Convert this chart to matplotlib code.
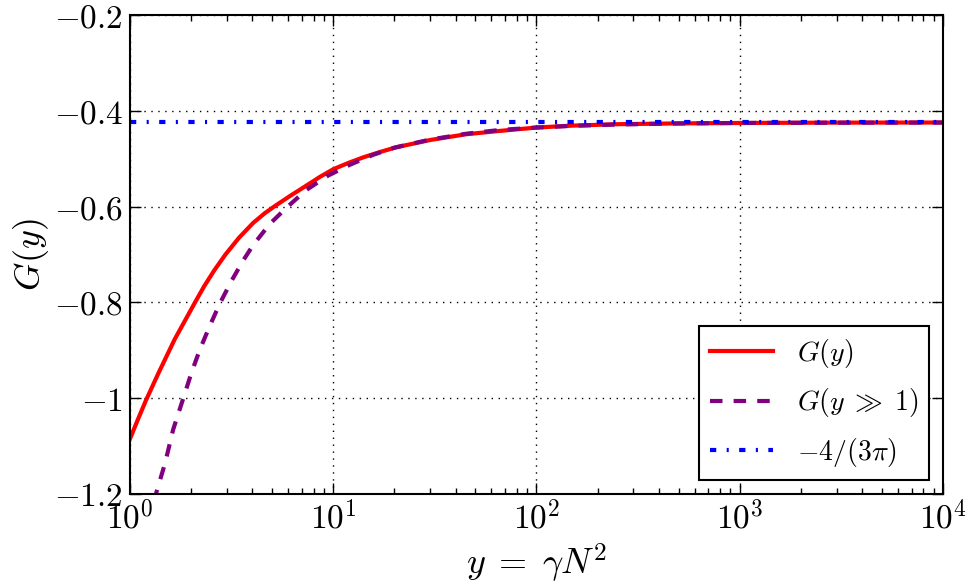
import numpy as np
import matplotlib
matplotlib.use("Agg")
import matplotlib.pyplot as plt

plt.rcParams['mathtext.fontset'] = 'cm'
plt.rcParams['font.family'] = ['DejaVu Serif']
plt.rcParams['lines.scale_dashes'] = False

# values
y_exact = [1.0, 1.1, 1.2, 1.38, 1.66, 2.09, 2.32, 2.60, 2.95, 3.44, 4.04,
           4.6, 5.2, 6.12, 7.39, 8.6, 10, 12, 14.1, 17, 20.5, 30, 45, 66,
           100, 150, 250, 500, 1000, 3000, 10000]
g_exact = [-1.085, -1.042, -1.004, -0.948, -0.877, -0.800, -0.766, -0.733,
           -0.700, -0.665, -0.634, -0.614, -0.598, -0.578, -0.556, -0.538,
           -0.522, -0.508, -0.497, -0.486, -0.476, -0.461, -0.449, -0.442,
           -0.435, -0.431, -0.428, -0.4263, -0.4254, -0.4247, -0.4245]

y_asym = [1.25, 1.35, 1.49, 1.63, 1.83, 2.01, 2.21, 2.47, 2.77, 3.16, 3.6,
          4.04, 4.88, 5.9, 7.39, 9.46, 12.1, 15.7, 20, 30, 45, 66, 100, 150,
          250, 500, 1000, 3000, 10000]
g_asym = [-1.265, -1.196, -1.135, -1.066, -1.0, -0.946, -0.898, -0.849,
          -0.802, -0.755, -0.713, -0.680, -0.636, -0.602, -0.565, -0.535,
          -0.5125, -0.492, -0.477, -0.46, -0.448, -0.440, -0.435, -0.4314,
          -0.4286, -0.4265, -0.4255, -0.4248, -0.4245]

limit_value = -4 / (3 * np.pi)
x_range = [1, 10000]

xticks = [1, 10, 100, 1000, 10000]
xtick_labels = [r'$10^{0}$', r'$10^{1}$', r'$10^{2}$', r'$10^{3}$', r'$10^{4}$']
yticks = [-1.2, -1.0, -0.8, -0.6, -0.4, -0.2]
ytick_labels = [r'$-1.2$', r'$-1$', r'$-0.8$', r'$-0.6$', r'$-0.4$', r'$-0.2$']

fig = plt.figure(figsize=(9.67, 5.88), dpi=100)
ax = fig.add_axes([0.1344, 0.1599, 0.8408, 0.8146])

ax.plot(y_exact, g_exact, color='#ff0000', lw=3, label=r'$G(y)$')
ax.plot(y_asym, g_asym, color='#800080', lw=3, dashes=(9, 8),
        label=r'$G(y \;\gg\; 1)$')
ax.plot(x_range, [limit_value, limit_value], color='#0000ff', lw=3,
        dashes=(4.5, 7.5, 1.5, 7.5), label=r'$-4/(3\pi)$')

ax.set_xscale('log')
ax.set_xlim(1, 1e4)
ax.set_ylim(-1.2, -0.2)
ax.set_xticks(xticks, xtick_labels)
ax.set_yticks(yticks, ytick_labels)
ax.tick_params(which='both', direction='in', top=True, right=True,
               labelsize=24, pad=5)
ax.tick_params(which='major', length=8, width=1)
ax.tick_params(which='minor', length=4, width=1)
for s in ax.spines.values():
    s.set_linewidth(1.5)

ax.grid(True, which='major', color='black', linestyle=(0, (1, 4)), lw=1)

ax.set_xlabel(r'$y \;=\; \gamma N^2$', fontsize=26, labelpad=4)
ax.set_ylabel(r'$G(y)$', fontsize=26, labelpad=2)

leg = ax.legend(loc='lower right', fontsize=20, fancybox=False,
                edgecolor='black', framealpha=1, handlelength=2.27,
                handletextpad=0.86, borderaxespad=0.5, borderpad=0.4,
                labelspacing=0.6)
leg.get_frame().set_linewidth(1.5)

fig.savefig('out.png', dpi=100, facecolor='white')
